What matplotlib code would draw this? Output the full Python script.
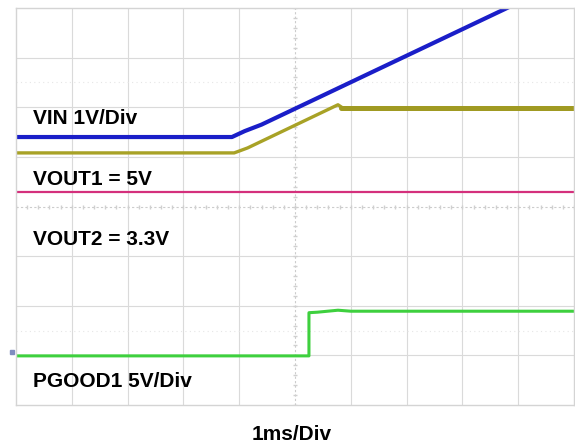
import matplotlib
matplotlib.use("Agg")
import matplotlib.pyplot as plt
import numpy as np

plt.rcParams['font.family'] = ['Liberation Sans', 'DejaVu Sans']

# scope traces, in divisions (10 x 8 grid)
t_vin = [0, 3.87, 4.1, 4.4, 8.8]
v_vin = [5.40, 5.40, 5.52, 5.65, 8.0]

t_out1_ramp = [0, 3.91, 4.15, 5.77, 5.85]
v_out1_ramp = [5.08, 5.08, 5.18, 6.05, 5.99]
t_out1_flat = [5.83, 10]
v_out1_flat = [5.98, 5.98]

t_out2 = [0, 10]
v_out2 = [4.29, 4.29]

t_pg = [0, 5.25, 5.25, 5.4, 5.77, 6.0, 10]
v_pg = [0.99, 0.99, 1.86, 1.87, 1.91, 1.89, 1.89]

labels = ["VIN 1V/Div", "VOUT1 = 5V", "VOUT2 = 3.3V", "PGOOD1 5V/Div"]
label_y = [5.67, 4.44, 3.23, 0.36]

fig = plt.figure(figsize=(5.75, 4.45), dpi=100)
ax = fig.add_axes([16/575, 40/445, 558/575, 397/445])
ax.set_xlim(0, 10)
ax.set_ylim(0, 8)
ax.set_xticks([])
ax.set_yticks([])
for s in ax.spines.values():
    s.set_color('#d4d4d4')
    s.set_linewidth(1.0)

# grid
gc = '#dadada'
for x in range(1, 10):
    if x != 5:
        ax.axvline(x, color=gc, lw=0.8, zorder=0)
for y in range(1, 8):
    if y != 4:
        ax.axhline(y, color=gc, lw=0.8, zorder=0)
ax.axvline(5, color='#cccccc', lw=0.8, ls=(0, (2, 2)), zorder=0)
ax.axhline(4, color='#cccccc', lw=0.8, ls=(0, (2, 2)), zorder=0)
# center ticks
ticks = np.arange(0, 10.01, 0.2)
ax.plot(ticks, np.full_like(ticks, 4), '|', color='#d0d0d0', ms=2.5, zorder=0)
ticks_y = np.arange(0, 8.01, 0.2)
ax.plot(np.full_like(ticks_y, 5), ticks_y, '_', color='#d0d0d0', ms=2.5, zorder=0)
# faint dotted lines
for y in [6.5, 1.5]:
    ax.axhline(y, color='#e6e6e6', lw=0.8, ls=(0, (1, 3)), zorder=0)

ax.plot(t_out2, v_out2, color='#d4307c', lw=1.6)
ax.plot(t_out1_ramp, v_out1_ramp, color='#a8a226', lw=2.4,
        solid_joinstyle='round', solid_capstyle='round')
ax.plot(t_out1_flat, v_out1_flat, color='#a09a22', lw=3.6, solid_capstyle='round')
ax.plot(t_vin, v_vin, color='#1a1ec8', lw=3.0, solid_joinstyle='round')
ax.plot(t_pg, v_pg, color='#3ed03e', lw=2.2)

ax.plot([-0.07], [1.07], 's', color='#7f8cc0', ms=3, clip_on=False)

for lab, y in zip(labels, label_y):
    ax.text(0.30, y, lab, fontsize=15, fontweight='bold', va='baseline', ha='left')

fig.text(292/575, 5/445, "1ms/Div", fontsize=15, fontweight='bold', ha='center', va='baseline')

fig.savefig("out.png", dpi=100)
